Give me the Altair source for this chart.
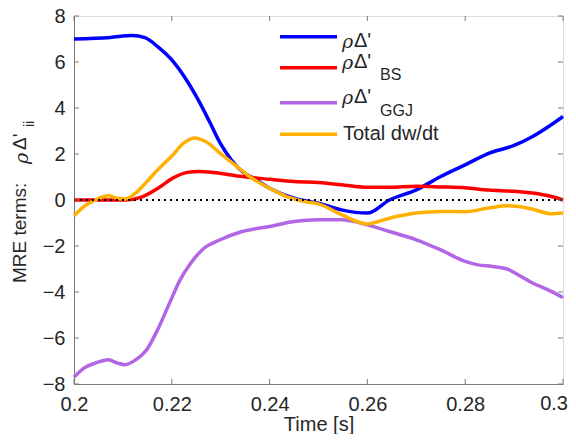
import altair as alt
import pandas as pd

# ---- data ----
t_blue = [0.2, 0.2074, 0.2119, 0.2145, 0.2171, 0.22, 0.2232, 0.2254, 0.2277, 0.2299, 0.2322,
          0.2344, 0.2367, 0.24, 0.245, 0.25, 0.2547, 0.26, 0.2645, 0.27, 0.275, 0.28,
          0.2848, 0.29, 0.2938, 0.2976, 0.3]
v_blue = [7.0, 7.07, 7.15, 7.06, 6.67, 6.09, 5.15, 4.35, 3.41, 2.47, 1.74,
          1.24, 0.95, 0.51, 0.08, -0.14, -0.43, -0.57, 0.0, 0.44, 1.02, 1.53,
          2.03, 2.37, 2.76, 3.27, 3.63]

t_red = [0.2, 0.2104, 0.2141, 0.2171, 0.2202, 0.2232, 0.2254, 0.2284, 0.2344, 0.24, 0.245,
         0.25, 0.2547, 0.26, 0.2645, 0.27, 0.275, 0.28, 0.2848, 0.29, 0.2938, 0.2976, 0.3]
v_red = [0.0, 0.0, 0.15, 0.5, 0.95, 1.2, 1.24, 1.2, 1.02, 0.9, 0.8,
         0.76, 0.66, 0.55, 0.55, 0.6, 0.57, 0.53, 0.43, 0.38, 0.3, 0.15, 0.0]

t_purple = [0.2, 0.2021, 0.2044, 0.207, 0.2089, 0.2104, 0.2126, 0.2149, 0.2171, 0.2194, 0.2217,
            0.2239, 0.2262, 0.2299, 0.2344, 0.24, 0.245, 0.25, 0.2547, 0.26, 0.2645, 0.27,
            0.275, 0.28, 0.2826, 0.2856, 0.2886, 0.2908, 0.2938, 0.2976, 0.3]
v_purple = [-7.71, -7.3, -7.09, -6.95, -7.09, -7.16, -6.95, -6.5, -5.64, -4.55, -3.47,
            -2.74, -2.17, -1.73, -1.37, -1.15, -0.93, -0.86, -0.86, -1.08, -1.37, -1.73,
            -2.17, -2.67, -2.82, -2.89, -3.0, -3.25, -3.61, -3.97, -4.24]

t_orange = [0.2, 0.2021, 0.2044, 0.207, 0.2089, 0.2104, 0.2126, 0.2149, 0.2171, 0.2202, 0.2224,
            0.2247, 0.2269, 0.2299, 0.2329, 0.2359, 0.24, 0.2435, 0.2472, 0.25, 0.2547, 0.26,
            0.2645, 0.27, 0.275, 0.28, 0.2848, 0.2886, 0.2908, 0.2938, 0.2976, 0.3]
v_orange = [-0.69, -0.28, 0.0, 0.18, 0.08, 0.04, 0.3, 0.8, 1.31, 1.96, 2.47,
            2.7, 2.54, 2.03, 1.53, 1.02, 0.51, 0.15, -0.07, -0.17, -0.64, -1.04,
            -0.79, -0.57, -0.5, -0.51, -0.35, -0.25, -0.28, -0.4, -0.6, -0.57]

series_names = ["rho", "bs", "ggj", "total"]
series_colors = ["#0000FF", "#FF0000", "#B266E6", "#FFB000"]
x_ticks = [0.2, 0.22, 0.24, 0.26, 0.28, 0.3]
y_ticks = [-8, -6, -4, -2, 0, 2, 4, 6, 8]
last_x_label = "0.3"

W, H = 489, 368
FONT = "Liberation Sans"
AX = "#7a7a7a"
TXT = "#262626"

rows = []
for name, ts, vs in zip(series_names, [t_blue, t_red, t_purple, t_orange],
                        [v_blue, v_red, v_purple, v_orange]):
    for t, v in zip(ts, vs):
        rows.append({"series": name, "t": t, "v": v})
df = pd.DataFrame(rows)

xs = alt.Scale(domain=[0.2, 0.3], nice=False, zero=False)
ys = alt.Scale(domain=[-8, 8], nice=False, zero=False)

base = alt.Chart(df)
lines = []
for name, col in zip(series_names, series_colors):
    lines.append(
        base.transform_filter(alt.datum.series == name)
        .mark_line(color=col, strokeWidth=3.5, interpolate="monotone")
        .encode(
            x=alt.X("t:Q", scale=xs,
                    axis=alt.Axis(values=x_ticks, ticks=False, grid=False, domainColor=AX,
                                  labelFont=FONT, labelFontSize=20, labelColor=TXT,
                                  labelPadding=10,
                                  labelExpr="datum.value >= 0.2999 ? '' : format(datum.value, '')",
                                  title="Time [s]", titleFont=FONT, titleFontSize=20,
                                  titleFontWeight="normal", titleColor=TXT, titlePadding=0,
                                  labelFlush=False)),
            y=alt.Y("v:Q", scale=ys,
                    axis=alt.Axis(values=y_ticks, ticks=False, grid=False, domainColor=AX,
                                  labelFont=FONT, labelFontSize=20, labelColor=TXT,
                                  labelPadding=9, title=None)),
        )
    )

zero_df = pd.DataFrame({"t": [0.2, 0.3], "v": [0, 0]})
zero_line = alt.Chart(zero_df).mark_line(color="black", strokeWidth=2, strokeDash=[2, 4]).encode(
    x=alt.X("t:Q", scale=xs), y=alt.Y("v:Q", scale=ys))

# inward tick marks on all four sides
xt = pd.DataFrame({"t": x_ticks})
yt = pd.DataFrame({"v": y_ticks})
tick_layers = [
    alt.Chart(xt).mark_rule(color=AX, strokeWidth=1).encode(
        x=alt.X("t:Q", scale=xs), y=alt.value(H), y2=alt.value(H - 5)),
    alt.Chart(xt).mark_rule(color=AX, strokeWidth=1).encode(
        x=alt.X("t:Q", scale=xs), y=alt.value(0), y2=alt.value(5)),
    alt.Chart(yt).mark_rule(color=AX, strokeWidth=1).encode(
        y=alt.Y("v:Q", scale=ys), x=alt.value(0), x2=alt.value(5)),
    alt.Chart(yt).mark_rule(color=AX, strokeWidth=1).encode(
        y=alt.Y("v:Q", scale=ys), x=alt.value(W), x2=alt.value(W - 5)),
]

# legend (manual, to allow subscripts)
leg_y = [20.7, 51.7, 86.7, 118.3]
leg_lines = []
for yy, col, name in zip(leg_y, series_colors, series_names):
    leg_lines.append(
        alt.Chart(pd.DataFrame({"k": [name]})).mark_rule(color=col, strokeWidth=3.5).encode(
            x=alt.value(206), x2=alt.value(263), y=alt.value(yy)))

def txt(s, x, y, size=20, italic=False, font=FONT, angle=0, align="left", baseline="middle"):
    kw = dict(font=font, fontSize=size, color=TXT, align=align, baseline=baseline)
    if italic:
        kw["fontStyle"] = "italic"
    if angle:
        kw["angle"] = angle
    return alt.Chart(pd.DataFrame({"s": [s]})).mark_text(**kw).encode(
        text="s:N", x=alt.value(x), y=alt.value(y))

leg_main_y = [24.5, 45.5, 80.7, 118.3]
leg_texts = []
for yy in leg_main_y[:3]:
    leg_texts.append(txt("ρ", 268, yy + 1, size=19, italic=True, font="DejaVu Serif"))
    leg_texts.append(txt("Δ'", 280, yy, size=20))
leg_texts.append(txt("BS", 306, 59, size=16))
leg_texts.append(txt("GGJ", 306, 95, size=16))
leg_texts.append(txt("Total dw/dt", 269, leg_main_y[3], size=20))

# last x tick label kept inside the drawing
end_label = txt(last_x_label, W + 5, H + 10, size=20, align="right", baseline="top")

# y-axis title (manual, to allow subscript)
ytitle = [
    txt("MRE terms:", -54, 267, size=19, angle=270),
    txt("ρ", -52, 148, size=19, italic=True, font="DejaVu Serif", angle=270),
    txt("Δ'", -54, 134, size=19, angle=270),
    txt("ii", -44, 111, size=14, angle=270),
]

chart = alt.layer(*lines, zero_line, *tick_layers, *leg_lines, *leg_texts, end_label,
                  *ytitle).properties(
    width=W, height=H,
    autosize=alt.AutoSizeParams(type="none"),
    padding={"left": 66, "top": 8, "right": 5, "bottom": 50},
).configure_view(stroke=AX, strokeWidth=1).configure(background="white")

chart.save("out.html", embed_options={"renderer": "svg", "actions": False})
